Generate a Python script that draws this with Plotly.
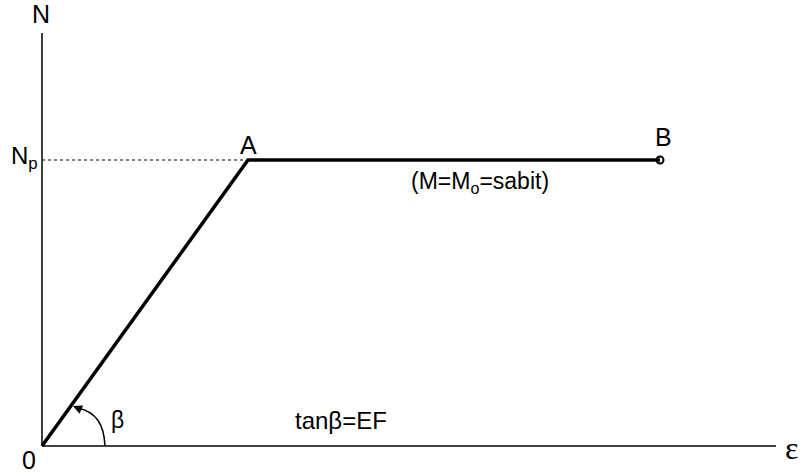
import plotly.graph_objects as go

# Data (normalized units): origin -> A (yield) -> B
strain = [0, 1, 3]
force = [0, 1, 1]
point_labels = ["0", "A", "B"]
Np = 1.0

W, H = 802, 476
X0PX, Y0PX = 42, 446      # pixel of origin
SX, SY = 206.0, 286.0     # pixels per unit

def dx(px):
    return (px - X0PX) / SX

def dy(py):
    return (Y0PX - py) / SY

fig = go.Figure()

# main curve
fig.add_trace(go.Scatter(x=strain, y=force, mode="lines",
                         line=dict(color="black", width=3.5),
                         hoverinfo="skip", showlegend=False))
# open circle at B
fig.add_trace(go.Scatter(x=[strain[-1]], y=[force[-1]], mode="markers",
                         marker=dict(symbol="circle-open", size=7, color="black",
                                     line=dict(width=2)),
                         hoverinfo="skip", showlegend=False))

shapes = [
    # axes
    dict(type="line", x0=0, y0=0, x1=dx(776), y1=0, line=dict(color="black", width=1.5)),
    dict(type="line", x0=0, y0=0, x1=0, y1=dy(33), line=dict(color="black", width=1.5)),
    # dotted Np line
    dict(type="line", x0=0, y0=Np, x1=strain[1], y1=Np,
         line=dict(color="black", width=1, dash="dot")),
    # beta arc
    dict(type="path",
         path=f"M {dx(105)},{dy(446)} C {dx(104)},{dy(424)} {dx(96)},{dy(412)} {dx(78)},{dy(408)}",
         line=dict(color="black", width=1.5)),
]

font = "Liberation Sans, Arial, Helvetica, sans-serif"
ann = [
    dict(x=dx(41), y=dy(14), text="N", size=25),
    dict(x=dx(24), y=dy(157), text="N<sub>p</sub>", size=24),
    dict(x=dx(248), y=dy(145), text=point_labels[1], size=25),
    dict(x=dx(663), y=dy(137), text=point_labels[2], size=25),
    dict(x=dx(29), y=dy(460), text=point_labels[0], size=25),
    dict(x=dx(117), y=dy(420), text="β", size=23),
    dict(x=dx(480), y=dy(182), text="(M=M<sub>o</sub>=sabit)", size=23),
    dict(x=dx(341), y=dy(420), text="tanβ=EF", size=24),
]
annotations = []
for a in ann:
    annotations.append(dict(x=a["x"], y=a["y"], xref="x", yref="y", text=a["text"],
                            showarrow=False, xanchor="center", yanchor="middle",
                            font=dict(family=font, size=a["size"], color="black")))
annotations.append(dict(x=dx(791), y=dy(448), xref="x", yref="y", text="ε",
                        showarrow=False, xanchor="center", yanchor="middle",
                        font=dict(family="Liberation Serif, Times New Roman, serif",
                                  size=32, color="black")))
# arrowhead of beta arc
annotations.append(dict(x=dx(73), y=dy(406), xref="x", yref="y", ax=dx(80), ay=dy(409),
                        axref="x", ayref="y", text="", showarrow=True,
                        arrowhead=2, arrowsize=1.2, arrowwidth=1.5, arrowcolor="black"))

fig.update_layout(
    width=W, height=H,
    margin=dict(l=0, r=0, t=0, b=0),
    paper_bgcolor="white", plot_bgcolor="white",
    xaxis=dict(range=[dx(0), dx(W)], visible=False, fixedrange=True),
    yaxis=dict(range=[dy(H), dy(0)], visible=False, fixedrange=True),
    shapes=shapes, annotations=annotations,
    showlegend=False,
)

fig.write_html("out.html", config={"displayModeBar": False},
               post_script="document.body.style.margin='0';document.body.style.overflow='hidden';")
